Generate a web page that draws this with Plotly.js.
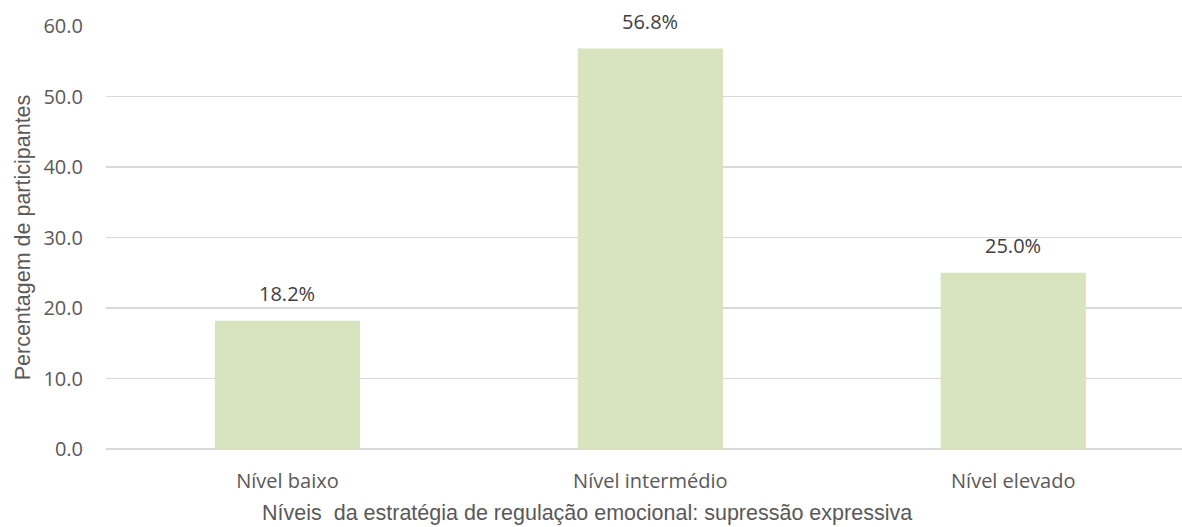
<!DOCTYPE html>
<html>
<head>
<meta charset="utf-8">
<script src="https://cdn.plot.ly/plotly-3.0.1.min.js"></script>
<style>
  html, body { margin: 0; padding: 0; background: #ffffff; }
  #chart { width: 1182px; height: 527px; }
</style>
</head>
<body>
<div id="chart"></div>
<script>
// Distribution of participants by level of expressive suppression
const categories = ['Nível baixo', 'Nível intermédio', 'Nível elevado'];
const percentages = [18.2, 56.8, 25.0];
const yTickValues = [0, 10, 20, 30, 40, 50, 60];
const yTickLabels = ['0.0', '10.0', '20.0', '30.0', '40.0', '50.0', '60.0'];
const xTitle = 'Níveis  da estratégia de regulação emocional: supressão expressiva';
const yTitle = 'Percentagem de participantes';

const barTrace = {
  type: 'bar',
  x: categories,
  y: percentages,
  width: 0.4,
  marker: { color: '#D7E4BD', line: { width: 0 } },
  hoverinfo: 'x+y'
};

// Value labels sitting above each bar
const valueLabels = categories.map((c, i) => ({
  x: c,
  y: percentages[i],
  xref: 'x',
  yref: 'y',
  text: percentages[i].toFixed(1) + '%',
  showarrow: false,
  yanchor: 'bottom',
  yshift: 12,
  font: { family: 'Open Sans, sans-serif', size: 20, color: '#404040' }
}));

// Horizontal axis title, placed under the category labels
const xTitleNote = {
  text: xTitle,
  xref: 'paper',
  yref: 'paper',
  x: 0.447,
  y: 0,
  xanchor: 'center',
  yanchor: 'middle',
  yshift: -64,
  showarrow: false,
  font: { family: 'Liberation Sans, Arial, sans-serif', size: 21.5, color: '#595959' }
};

const layout = {
  width: 1182,
  height: 527,
  margin: { l: 106, r: 0, t: 26, b: 78 },
  paper_bgcolor: '#ffffff',
  plot_bgcolor: '#ffffff',
  showlegend: false,
  bargap: 0.6,
  xaxis: {
    type: 'category',
    range: [-0.5, 2.465],
    showgrid: false,
    zeroline: false,
    showline: false,
    ticks: '',
    tickfont: { family: 'Open Sans, sans-serif', size: 20, color: '#595959' },
    ticklabelstandoff: 18
  },
  yaxis: {
    range: [0, 60],
    tickvals: yTickValues,
    ticktext: yTickLabels,
    showgrid: true,
    gridcolor: '#D9D9D9',
    gridwidth: 1.5,
    zeroline: true,
    zerolinecolor: '#D9D9D9',
    zerolinewidth: 1.5,
    showline: false,
    ticks: '',
    tickfont: { family: 'Open Sans, sans-serif', size: 20, color: '#595959' },
    ticklabelstandoff: 22,
    title: {
      text: yTitle,
      font: { family: 'Liberation Sans, Arial, sans-serif', size: 21.5, color: '#595959' },
      standoff: 6
    }
  },
  annotations: valueLabels.concat([xTitleNote])
};

Plotly.newPlot('chart', [barTrace], layout, { displayModeBar: false, staticPlot: true });
</script>
</body>
</html>
